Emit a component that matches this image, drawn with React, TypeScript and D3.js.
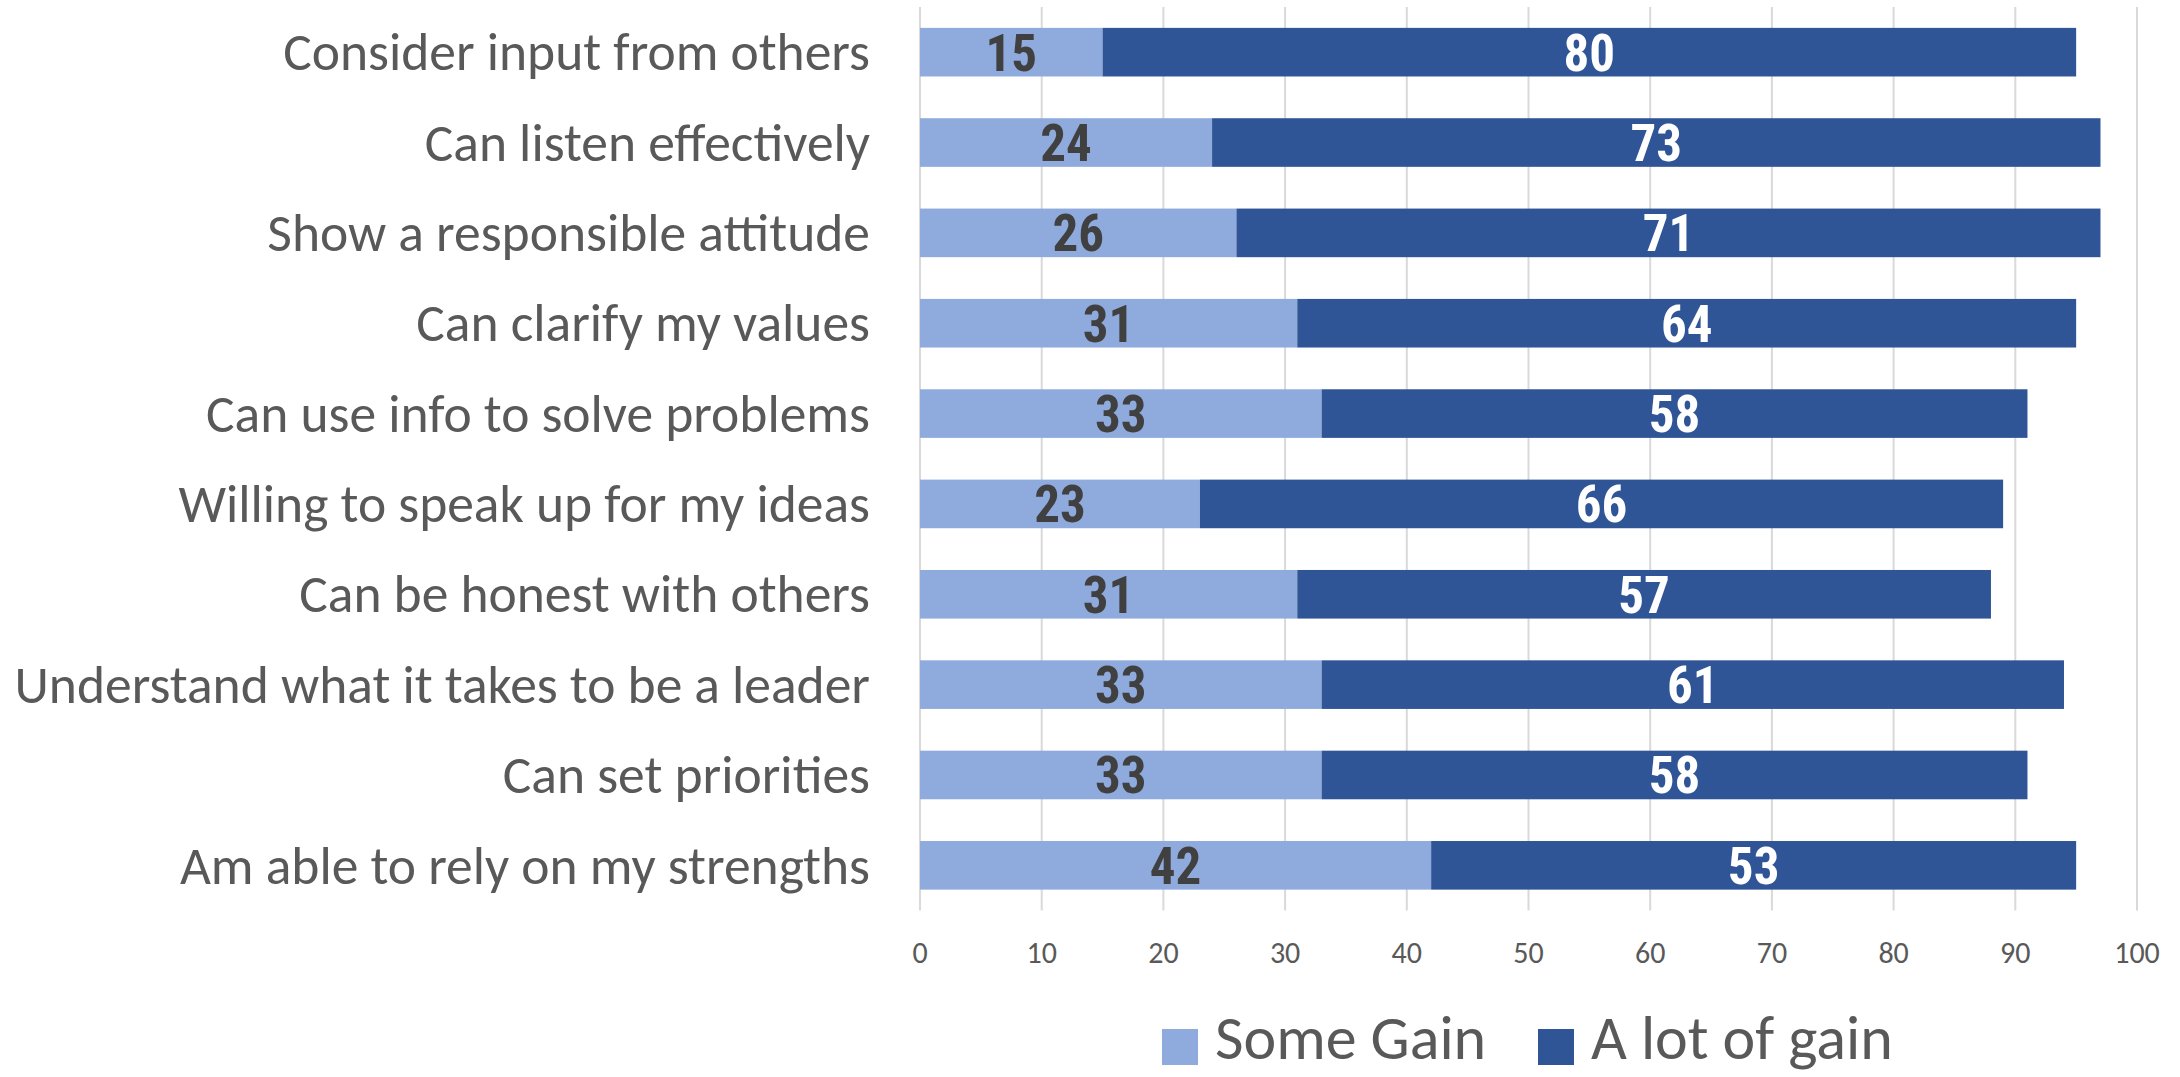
import React from "react";
import * as d3 from "d3";

const categories = [
  "Consider input from others",
  "Can listen effectively",
  "Show a responsible attitude",
  "Can clarify my values",
  "Can use info to solve problems",
  "Willing to speak up for my ideas",
  "Can be honest with others",
  "Understand what it takes to be a leader",
  "Can set priorities",
  "Am able to rely on my strengths",
];
const someGain = [15, 24, 26, 31, 33, 23, 31, 33, 33, 42];
const aLotOfGain = [80, 73, 71, 64, 58, 66, 57, 61, 58, 53];
const xTicks = [0, 10, 20, 30, 40, 50, 60, 70, 80, 90, 100];
const seriesNames = ["Some Gain", "A lot of gain"];
const seriesColors = ["#8FAADC", "#2F5597"];
const labelColors = ["#404040", "#FFFFFF"];

const W = 2180;
const H = 1077;
const plotLeft = 920;
const plotRight = 2137;
const plotTop = 7;
const plotBottom = 910.5;

const catFont = "Carlito, Calibri, Lato, 'Open Sans', sans-serif";
const numFont = "'Liberation Sans Narrow', 'Arial Narrow', 'Roboto Condensed', 'Liberation Sans', sans-serif";

export default function App() {
  const x = d3.scaleLinear().domain([0, 100]).range([plotLeft, plotRight]);
  const y = d3
    .scaleBand<string>()
    .domain(categories)
    .range([plotTop, plotBottom])
    .paddingInner(0.462)
    .paddingOuter(0.231);

  const rows = categories.map((c, i) => ({
    cat: c,
    segs: [
      { s: 0, x0: 0, x1: someGain[i], v: someGain[i] },
      { s: 1, x0: someGain[i], x1: someGain[i] + aLotOfGain[i], v: aLotOfGain[i] },
    ],
  }));

  return (
    <svg
      width={W}
      height={H}
      style={{ position: "absolute", left: 0, top: 0, background: "#fff" }}
    >
      {xTicks.map((t) => (
        <line
          key={"g" + t}
          x1={x(t)}
          x2={x(t)}
          y1={plotTop}
          y2={plotBottom}
          stroke="#D9D9D9"
          strokeWidth={2}
        />
      ))}
      {rows.map((r) => (
        <g key={r.cat}>
          {r.segs.map((sg) => (
            <rect
              key={sg.s}
              x={x(sg.x0)}
              y={y(r.cat)!}
              width={x(sg.x1) - x(sg.x0)}
              height={y.bandwidth()}
              fill={seriesColors[sg.s]}
            />
          ))}
          {r.segs.map((sg) => (
            <text
              key={"t" + sg.s}
              x={(x(sg.x0) + x(sg.x1)) / 2}
              y={y(r.cat)! + y.bandwidth() / 2}
              dy="0.36em"
              textAnchor="middle"
              fontFamily={numFont}
              fontWeight="bold"
              fontSize={51}
              fill={labelColors[sg.s]}
            >
              {sg.v}
            </text>
          ))}
          <text
            x={870}
            y={y(r.cat)! + y.bandwidth() / 2}
            dy="0.34em"
            textAnchor="end"
            fontFamily={catFont}
            fontSize={53.5}
            fill="#595959"
          >
            {r.cat}
          </text>
        </g>
      ))}
      {xTicks.map((t) => (
        <text
          key={"x" + t}
          x={x(t)}
          y={952}
          dy="0.35em"
          textAnchor="middle"
          fontFamily={catFont}
          fontSize={30}
          fill="#595959"
        >
          {t}
        </text>
      ))}
      {seriesNames.map((n, i) => {
        const lx = [1162, 1538][i];
        return (
          <g key={n}>
            <rect x={lx} y={1029} width={36} height={36} fill={seriesColors[i]} />
            <text
              x={lx + 53}
              y={1059}
              fontFamily={catFont}
              fontSize={62}
              fill="#595959"
            >
              {n}
            </text>
          </g>
        );
      })}
    </svg>
  );
}
